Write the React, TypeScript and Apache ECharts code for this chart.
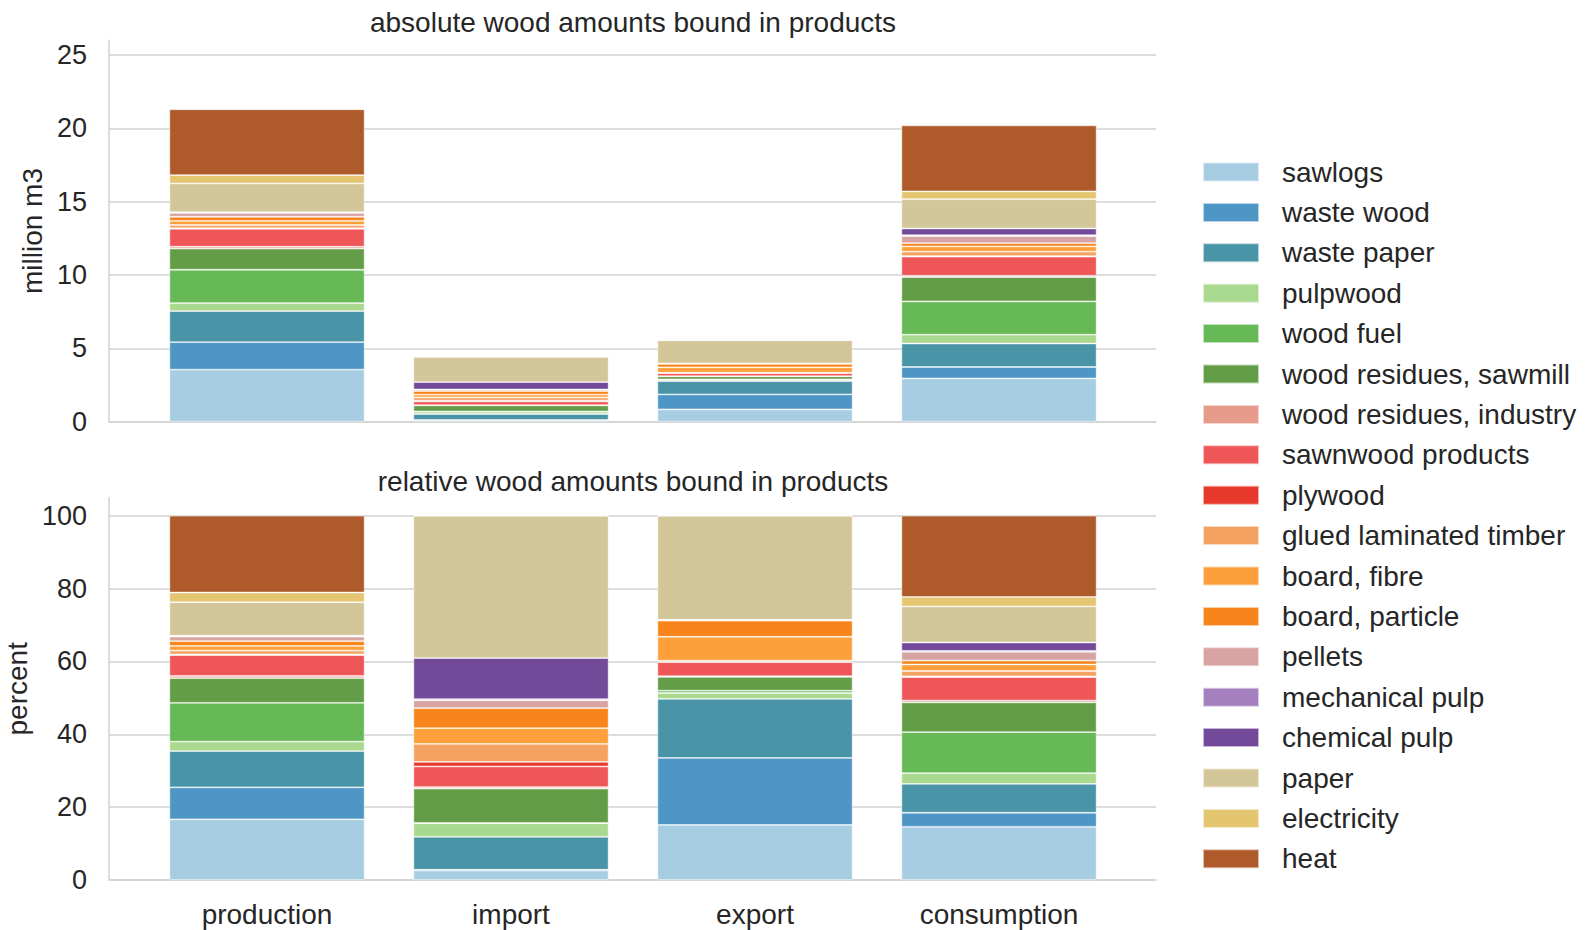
import React, { useEffect, useRef } from "react";
import * as echarts from "echarts";

// Flows of wood-based goods (million m3) per balance position
const positions = ["production", "import", "export", "consumption"];

const products = [
  "sawlogs",
  "waste wood",
  "waste paper",
  "pulpwood",
  "wood fuel",
  "wood residues, sawmill",
  "wood residues, industry",
  "sawnwood products",
  "plywood",
  "glued laminated timber",
  "board, fibre",
  "board, particle",
  "pellets",
  "mechanical pulp",
  "chemical pulp",
  "paper",
  "electricity",
  "heat",
];

const productColors = [
  "#a6cde2",
  "#4e96c6",
  "#4a94a8",
  "#a9d98f",
  "#67b957",
  "#649d47",
  "#e69b8b",
  "#ef5658",
  "#e6392c",
  "#f5a261",
  "#fd9f3a",
  "#f8851c",
  "#d8a3a3",
  "#a480bf",
  "#734a99",
  "#d3c699",
  "#e4c570",
  "#ae5a2a",
];

// values per product: [production, import, export, consumption]
const sawlogs = [3.55, 0.115, 0.84, 2.95];
const wasteWood = [1.87, 0.01, 1.02, 0.78];
const wastePaper = [2.12, 0.4, 0.9, 1.6];
const pulpwood = [0.55, 0.165, 0.09, 0.6];
const woodFuel = [2.27, 0.005, 0.035, 2.27];
const residuesSawmill = [1.44, 0.415, 0.21, 1.65];
const residuesIndustry = [0.13, 0.02, 0.01, 0.1];
const sawnwood = [1.22, 0.25, 0.215, 1.3];
const plywood = [0.04, 0.055, 0.005, 0.04];
const gluedLaminated = [0.22, 0.22, 0.017, 0.3];
const boardFibre = [0.28, 0.19, 0.365, 0.36];
const boardParticle = [0.28, 0.245, 0.245, 0.22];
const pellets = [0.26, 0.095, 0.01, 0.48];
const mechanicalPulp = [0.04, 0.013, 0.0, 0.06];
const chemicalPulp = [0.02, 0.5, 0.005, 0.46];
const paper = [1.95, 1.73, 1.585, 2.0];
const electricity = [0.57, 0, 0, 0.53];
const heat = [4.49, 0, 0, 4.5];

const absoluteValues = [
  sawlogs,
  wasteWood,
  wastePaper,
  pulpwood,
  woodFuel,
  residuesSawmill,
  residuesIndustry,
  sawnwood,
  plywood,
  gluedLaminated,
  boardFibre,
  boardParticle,
  pellets,
  mechanicalPulp,
  chemicalPulp,
  paper,
  electricity,
  heat,
];

const absTicks = [0, 5, 10, 15, 20, 25];
const relTicks = [0, 20, 40, 60, 80, 100];

const FONT = "'Liberation Sans', Arial, Helvetica, sans-serif";
const TEXT = "#262626";
const GRID = "#d2d2d2";

export default function App() {
  const ref = useRef<HTMLDivElement>(null);

  useEffect(() => {
    if (!ref.current) return;
    const chart = echarts.init(ref.current, undefined, { renderer: "svg" });

    const totals = positions.map((_, j) =>
      absoluteValues.reduce((s, row) => s + row[j], 0)
    );
    const relativeValues = absoluteValues.map((row) =>
      row.map((v, j) => (v / totals[j]) * 100)
    );

    // plot frame (spines + grid) and bar area, shared by both panels
    const frameLeft = 109;
    const frameWidth = 1047;
    const bandWidth = 244;
    const barsLeft = 267 - bandWidth / 2;
    const barsWidth = bandWidth * positions.length;

    const topPanel = { top: 40.3, height: 381.4 };
    const bottomPanel = { top: 497.5, height: 382.5 };

    const frameX = (gridIndex: number) => ({
      type: "value" as const,
      gridIndex,
      min: 0,
      max: 1,
      axisLine: { show: true, lineStyle: { color: GRID, width: 1.5 } },
      axisTick: { show: false },
      axisLabel: { show: false },
      splitLine: { show: false },
    });

    const frameY = (
      gridIndex: number,
      max: number,
      interval: number,
      name: string,
      nameGap: number
    ) => ({
      type: "value" as const,
      gridIndex,
      min: 0,
      max,
      interval,
      name,
      nameLocation: "middle" as const,
      nameGap,
      nameTextStyle: { fontSize: 28, color: TEXT, fontFamily: FONT },
      axisLine: { show: true, lineStyle: { color: GRID, width: 1.5 } },
      axisTick: { show: false },
      axisLabel: {
        fontSize: 27,
        color: TEXT,
        fontFamily: FONT,
        margin: 22,
        showMaxLabel: false,
      },
      splitLine: {
        show: true,
        showMaxLine: false,
        lineStyle: { color: GRID, width: 1.5 },
      },
    });

    const barsX = (gridIndex: number, showLabels: boolean) => ({
      type: "category" as const,
      gridIndex,
      data: positions,
      axisLine: { show: false },
      axisTick: { show: false },
      axisLabel: {
        show: showLabels,
        fontSize: 28,
        color: TEXT,
        fontFamily: FONT,
        margin: 20,
      },
      splitLine: { show: false },
    });

    const barsY = (gridIndex: number, max: number) => ({
      type: "value" as const,
      gridIndex,
      min: 0,
      max,
      show: false,
    });

    const makeSeries = (
      values: number[][],
      stack: string,
      axisIndex: number
    ) =>
      products.map((name, i) => ({
        type: "bar" as const,
        name,
        stack,
        xAxisIndex: axisIndex,
        yAxisIndex: axisIndex,
        barWidth: "80%",
        data: values[i],
        itemStyle: {
          color: productColors[i],
          borderColor: "rgba(255,255,255,0.6)",
          borderWidth: 0.8,
        },
        emphasis: { disabled: true },
      }));

    const gridBase = { outerBoundsMode: "none", containLabel: false };

    chart.setOption({
      animation: false,
      backgroundColor: "#ffffff",
      textStyle: { fontFamily: FONT },
      title: [
        {
          text: "absolute wood amounts bound in products",
          left: 628,
          top: 3,
          textAlign: "center",
          textStyle: {
            fontSize: 28,
            fontWeight: "normal",
            color: TEXT,
            fontFamily: FONT,
          },
        },
        {
          text: "relative wood amounts bound in products",
          left: 628,
          top: 462,
          textAlign: "center",
          textStyle: {
            fontSize: 28,
            fontWeight: "normal",
            color: TEXT,
            fontFamily: FONT,
          },
        },
      ],
      legend: {
        orient: "vertical",
        left: 1197,
        top: 152,
        itemWidth: 56,
        itemHeight: 19,
        itemGap: 10.4,
        icon: "rect",
        data: products,
        textStyle: {
          fontSize: 28,
          color: TEXT,
          fontFamily: FONT,
          lineHeight: 30,
          padding: [0, 0, 0, 18],
        },
      },
      grid: [
        { ...gridBase, left: frameLeft, width: frameWidth, ...topPanel },
        { ...gridBase, left: barsLeft, width: barsWidth, ...topPanel },
        { ...gridBase, left: frameLeft, width: frameWidth, ...bottomPanel },
        { ...gridBase, left: barsLeft, width: barsWidth, ...bottomPanel },
      ],
      xAxis: [frameX(0), barsX(1, false), frameX(2), barsX(3, true)],
      yAxis: [
        frameY(0, 26, absTicks[1] - absTicks[0], "million m3", 62),
        barsY(1, 26),
        frameY(2, 105, relTicks[1] - relTicks[0], "percent", 78),
        barsY(3, 105),
      ],
      series: [
        ...makeSeries(absoluteValues, "absolute", 1),
        ...makeSeries(relativeValues, "relative", 3),
      ],
    });

    return () => chart.dispose();
  }, []);

  return (
    <div
      ref={ref}
      style={{
        position: "fixed",
        left: 0,
        top: 0,
        width: 1588,
        height: 930,
        background: "#fff",
      }}
    />
  );
}
